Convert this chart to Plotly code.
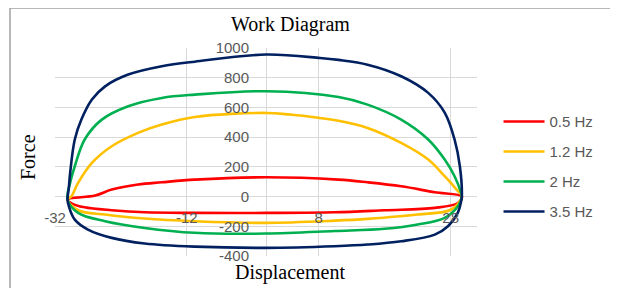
import plotly.graph_objects as go

# ---- data (Displacement, Force) ----
series_names = ["0.5 Hz", "1.2 Hz", "2 Hz", "3.5 Hz"]
series_colors = ["#FF0000", "#FFC000", "#00B050", "#002060"]

hz05_x = [-30.1, -25.9, -23.4, -19.4, -15.8, -10.8, 0, 11, 15.4, 20.5, 25.6, 29.7,
          29.1, 25.6, 18, 10.4, 0, -10.8, -18.4, -23.4, -27.5, -29.5, -30.1]
hz05_y = [-20, 7, 47, 81, 96, 114, 130, 114, 96, 69, 29, 0,
          -43, -76, -92, -106, -110, -110, -106, -92, -72, -45, -20]

hz12_x = [-30.1, -29.5, -28.5, -26.4, -23.4, -19.4, -15.8, -10.8, 0, 3.6, 11, 15.4, 20.5, 24.6, 27.1, 28.9, 29.7,
          28.1, 23, 15.4, 10.4, 0, -10.8, -18.4, -24.4, -28.5, -30.1]
hz12_y = [-20, 2, 92, 227, 339, 429, 485, 536, 563, 552, 510, 462, 361, 249, 137, 47, 0,
          -87, -121, -150, -162, -177, -166, -148, -121, -92, -20]

hz2_x = [-30.1, -29.7, -29, -27.5, -24.9, -20.9, -15.8, -10.8, 0, 11, 15.4, 20.5, 24.6, 27.1, 28.6, 29.5, 29.7,
         29.1, 27.1, 23, 18, 10.4, 0, -10.8, -18.4, -24.4, -28.5, -30.1]
hz2_y = [-20, 94, 204, 384, 518, 608, 664, 686, 709, 670, 619, 518, 384, 249, 137, 36, 0,
         -65, -143, -188, -217, -232, -249, -244, -211, -166, -110, -20]

hz35_x = [-30.1, -29.9, -29.7, -29, -28, -26.4, -24.4, -20.9, -15.8, -10.8, 0, 8.2, 11, 15.4, 20.5, 24.6, 27.1, 28.6, 29.4, 29.7,
          29.6, 29.1, 27.6, 25.6, 20.5, 15.4, 10.4, 0, -10.8, -18.4, -23.4, -27, -29, -29.9, -30.1]
hz35_y = [-20, 60, 161, 384, 518, 653, 742, 821, 877, 908, 956, 933, 920, 888, 810, 698, 565, 384, 204, 0,
          -30, -108, -200, -256, -301, -323, -334, -345, -337, -316, -278, -222, -155, -65, -20]

x_ticks = [-32, -12, 8, 28]
y_ticks = [-400, -200, 0, 200, 400, 600, 800, 1000]

all_x = [hz05_x, hz12_x, hz2_x, hz35_x]
all_y = [hz05_y, hz12_y, hz2_y, hz35_y]

fig = go.Figure()
for i, (name, col) in enumerate(zip(series_names, series_colors)):
    fig.add_trace(go.Scatter(
        x=all_x[i], y=all_y[i], mode="lines", name=name,
        line=dict(color=col, width=2.6, shape="spline", smoothing=1.0),
        legendgroup=name,
    ))

tick_font = dict(family="Liberation Sans, Arial, sans-serif", size=15, color="#595959")
serif = dict(family="Liberation Serif, Times New Roman, serif", size=20, color="#000000")

# page body has an 8px default margin, so the figure is 8px smaller and shifted
fig.update_layout(
    width=610, height=280,
    margin=dict(l=47, r=141, t=40, b=32, autoexpand=False),
    paper_bgcolor="white", plot_bgcolor="white",
    showlegend=True,
    legend=dict(x=1.051, y=0.725, xanchor="left", yanchor="top", itemwidth=41,
                font=tick_font, tracegroupgap=7.5, bgcolor="rgba(0,0,0,0)"),
    xaxis=dict(range=[-32, 32], tickvals=x_ticks, ticktext=[str(v) for v in x_ticks],
               showgrid=True, gridcolor="#D9D9D9", gridwidth=1,
               zeroline=True, zerolinecolor="#D9D9D9", zerolinewidth=1,
               showline=False, ticks="", tickfont=tick_font,
               anchor="free", position=400 / 1400, ticklabelstandoff=10,
               automargin=False, fixedrange=True),
    yaxis=dict(range=[-400, 1000], tickvals=y_ticks, ticktext=[str(v) for v in y_ticks],
               showgrid=True, gridcolor="#D9D9D9", gridwidth=1,
               zeroline=True, zerolinecolor="#D9D9D9", zerolinewidth=1,
               showline=False, ticks="", tickfont=tick_font,
               anchor="free", position=0.5, ticklabelstandoff=17,
               automargin=False, fixedrange=True),
    annotations=[
        dict(text="Work Diagram", xref="paper", yref="paper", x=(290 - 55) / 422, y=(256 - 25) / 208,
             showarrow=False, font=serif, xanchor="center", yanchor="middle"),
        dict(text="Displacement", xref="paper", yref="paper", x=(290 - 55) / 422, y=(256 - 272) / 208,
             showarrow=False, font=serif, xanchor="center", yanchor="middle"),
        dict(text="Force", xref="paper", yref="paper", x=(28 - 55) / 422, y=(256 - 157) / 208,
             showarrow=False, font=serif, xanchor="center", yanchor="middle", textangle=-90),
    ],
    shapes=[
        dict(type="line", xref="paper", yref="paper", x0=(10 - 55) / 422, x1=(620 - 55) / 422,
             y0=(256 - 8) / 208, y1=(256 - 8) / 208, line=dict(color="#A0A0A0", width=1.5)),
        dict(type="line", xref="paper", yref="paper", x0=(10 - 55) / 422, x1=(10 - 55) / 422,
             y0=(256 - 8) / 208, y1=(256 - 290) / 208, line=dict(color="#A0A0A0", width=1.5)),
    ],
)

fig.write_html("out.html")
